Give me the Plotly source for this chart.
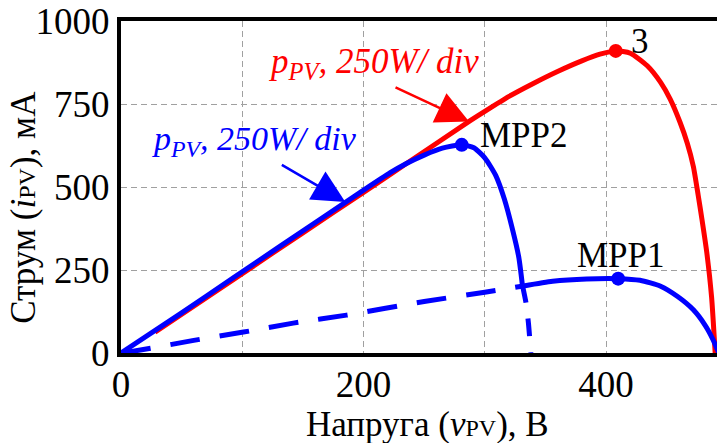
import plotly.graph_objects as go

# Curve A: lower-current I-V characteristic (dashed up to the crossing, solid after)
curve_a_v = [0, 16, 60, 101, 142, 186, 250, 300, 332, 356, 384, 410, 428, 445, 459, 472, 482, 488, 493]
curve_a_i = [0, 9, 38, 63, 90, 114, 155, 183, 202, 216, 223, 224, 219, 201, 170, 130, 82, 42, 0]
# Curve B: higher-current I-V characteristic (solid up to the crossing, dashed after)
curve_b_v = [0, 50, 92, 131, 197, 222, 235, 250, 265, 281, 291, 300, 309, 316, 323, 328, 331, 334, 336, 338]
curve_b_i = [0, 121, 225, 321, 483, 543, 570, 596, 617, 627, 618, 588, 535, 465, 370, 289, 205, 151, 90, 0]
# Curve C: combined characteristic (red)
curve_c_v = [28, 100, 150, 200, 240, 288, 300, 320, 340, 360, 380, 395, 408, 420, 434, 445, 453, 461, 467, 472, 476, 479, 483, 487, 490]
curve_c_i = [63, 239, 362, 484, 582, 700, 728, 773, 812, 848, 880, 900, 910, 903, 865, 815, 764, 695, 632, 562, 475, 405, 305, 170, 0]

crossing_index_a = 8   # index of V≈332 in curve A
crossing_index_b = 16  # index of V≈331 in curve B

# Maximum power points
mpp1 = (410, 224)
mpp2 = (281, 627)
mpp3 = (408, 910)

x_tick_vals = [0, 200, 400]
x_minor_step = 100
y_tick_vals = [0, 250, 500, 750, 1000]

BLUE = "#0000ff"
RED = "#ff0000"
SERIF = "Times New Roman, Liberation Serif, serif"
GRID = dict(showgrid=True, gridcolor="#a0a0a0", gridwidth=1, griddash="6px,4px")


def curve(xs, ys, color, dash="solid"):
    return go.Scatter(x=xs, y=ys, mode="lines",
                      line=dict(color=color, width=5, dash=dash, shape="spline", smoothing=0.6),
                      showlegend=False, hoverinfo="skip")


fig = go.Figure()

# Blue dashed parts
fig.add_trace(curve(curve_a_v[:crossing_index_a + 1], curve_a_i[:crossing_index_a + 1], BLUE, "30px,20px"))
fig.add_trace(curve(curve_b_v[crossing_index_b:], curve_b_i[crossing_index_b:], BLUE, "18px,16px"))
# Red curve
fig.add_trace(curve(curve_c_v, curve_c_i, RED))
# Blue solid envelope
fig.add_trace(curve(curve_b_v[:crossing_index_b + 1], curve_b_i[:crossing_index_b + 1], BLUE))
fig.add_trace(curve(curve_a_v[crossing_index_a:], curve_a_i[crossing_index_a:], BLUE))

# MPP markers
fig.add_trace(go.Scatter(x=[mpp1[0], mpp2[0]], y=[mpp1[1], mpp2[1]], mode="markers",
                         marker=dict(color=BLUE, size=14), showlegend=False, hoverinfo="skip"))
fig.add_trace(go.Scatter(x=[mpp3[0]], y=[mpp3[1]], mode="markers",
                         marker=dict(color=RED, size=14), showlegend=False, hoverinfo="skip"))

annotations = [
    dict(x=332, y=654, text="MPP2", showarrow=False, font=dict(family=SERIF, size=35, color="black")),
    dict(x=412, y=295, text="MPP1", showarrow=False, font=dict(family=SERIF, size=35, color="black")),
    dict(x=428, y=937, text="3", showarrow=False, font=dict(family=SERIF, size=35, color="black")),
    dict(x=208, y=872, text="<i>p<sub>PV</sub>, 250W/ div</i>", showarrow=False,
         font=dict(family=SERIF, size=35, color=RED)),
    dict(x=110, y=638, text="<i>p<sub>PV</sub>, 250W/ div</i>", showarrow=False,
         font=dict(family=SERIF, size=34, color=BLUE)),
    # arrows
    dict(x=287, y=697, ax=-75, ay=-35, text="", showarrow=True, arrowhead=2, arrowsize=2.6,
         arrowwidth=2.5, arrowcolor=RED, standoff=0, startstandoff=0),
    dict(x=185, y=455, ax=-65, ay=-38, text="", showarrow=True, arrowhead=2, arrowsize=2.6,
         arrowwidth=2.5, arrowcolor=BLUE, standoff=0, startstandoff=0),
    # axis titles
    dict(xref="paper", yref="paper", x=0.515, y=-0.215, xanchor="center", yanchor="middle",
         text="Напруга (<i>v</i><span style='font-size:24px'>PV</span>), В", showarrow=False,
         font=dict(family=SERIF, size=35, color="black")),
    dict(xref="paper", yref="paper", x=-0.163, y=0.44, xanchor="center", yanchor="middle",
         textangle=-90,
         text="Струм (<i>i</i><span style='font-size:24px'>PV</span>), мА", showarrow=False,
         font=dict(family=SERIF, size=35, color="black")),
]

fig.update_layout(
    width=717, height=443,
    margin=dict(l=121, r=0, t=21, b=90),
    paper_bgcolor="white", plot_bgcolor="white",
    annotations=annotations,
    xaxis=dict(range=[0, 491.5], tickvals=x_tick_vals, **GRID,
               minor=dict(dtick=x_minor_step, tick0=0, **GRID),
               zeroline=False, showline=True, linecolor="black", linewidth=4, mirror=True,
               ticks="", ticklabelstandoff=-4,
               tickfont=dict(family=SERIF, size=37, color="black")),
    yaxis=dict(range=[0, 1000], tickvals=y_tick_vals, **GRID,
               zeroline=False, showline=True, linecolor="black", linewidth=4,
               ticks="", tickfont=dict(family=SERIF, size=37, color="black")),
)

fig.write_html("out.html")
